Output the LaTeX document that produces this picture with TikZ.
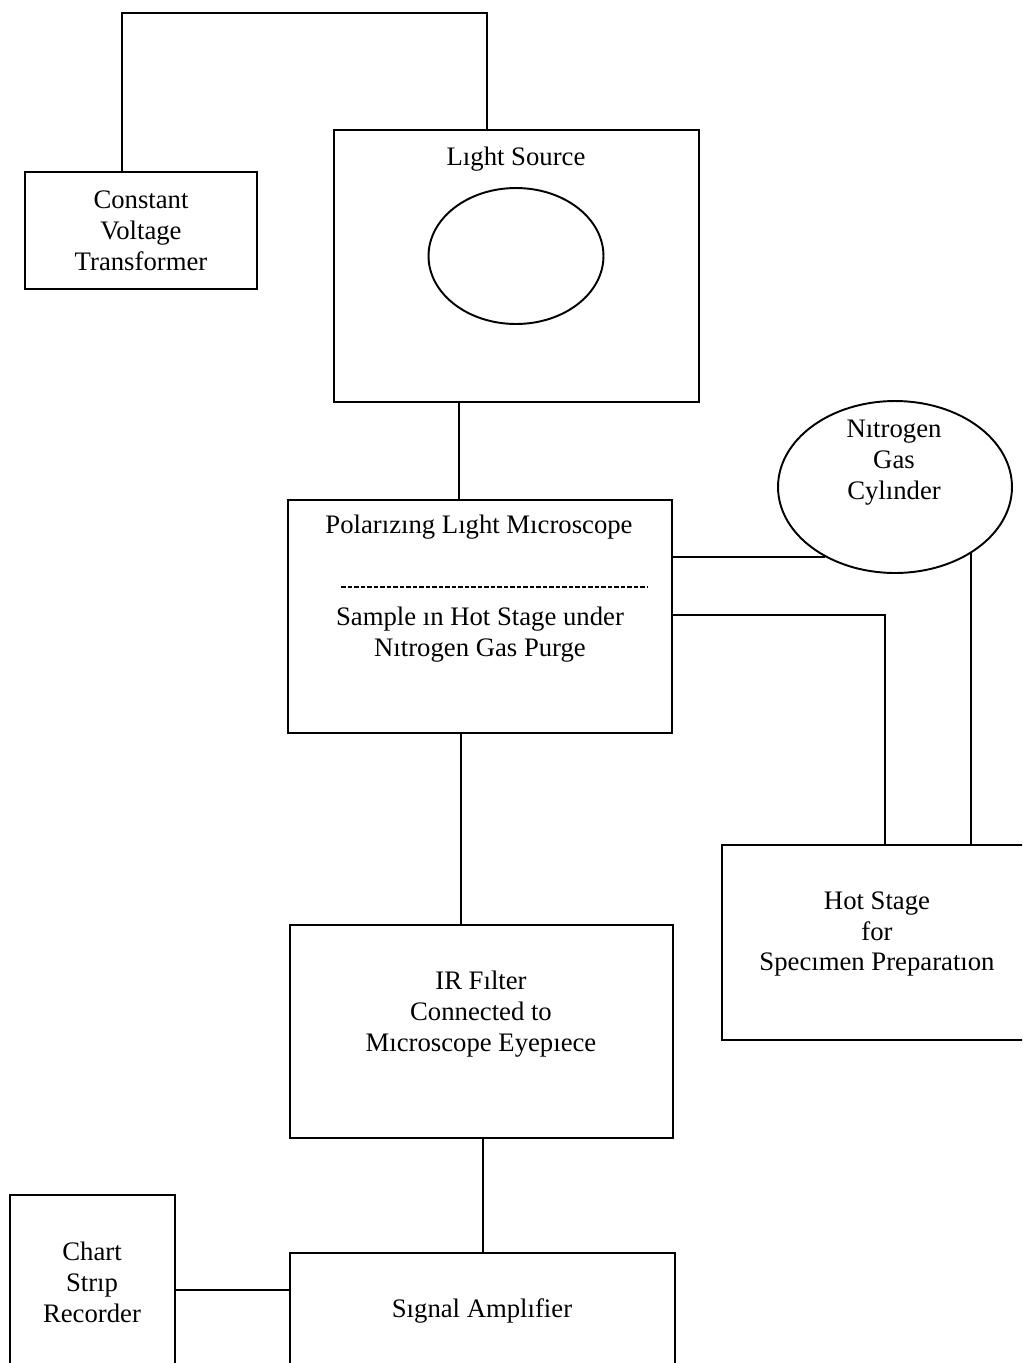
\documentclass[tikz,border=0pt]{standalone}
\usepackage{fontspec}
\setmainfont{Liberation Serif}
\usetikzlibrary{shapes.geometric}
\begin{document}
\begin{tikzpicture}[x=0.02cm,y=-0.02cm]
\tikzset{
  box/.style={draw, line width=1.1pt, rectangle, inner sep=0pt},
  oval/.style={draw, line width=1.1pt, ellipse, inner sep=0pt},
  lbl/.style={align=center, inner sep=0pt, font=\fontsize{15.2}{17.6}\selectfont},
  wire/.style={line width=1.1pt},
  dashline/.style={line width=0.9pt, dash pattern=on 2.6pt off 1.1pt}
}
\useasboundingbox (0,0) rectangle (1022,1363);
\clip (0,0) rectangle (1022,1363);

% boxes and texts
\node[box, minimum width=4.64cm, minimum height=2.34cm] (cvt) at (141,230.5) {};
\node[lbl] (cvtT) at (141,231) {Constant\\Voltage\\Transformer};

\node[box, minimum width=7.3cm, minimum height=5.44cm] (ls) at (516.5,266) {};
\node[lbl] (lsT) at (516,159) {Lıght Source};
\node[oval, minimum width=3.5cm, minimum height=2.72cm] (bulb) at (516,256) {};

\node[box, minimum width=7.68cm, minimum height=4.66cm] (plm) at (480,616.5) {};
\node[lbl] (plmT) at (479,527) {Polarızıng Lıght Mıcroscope};
\coordinate (dA) at (341,587);
\coordinate (dB) at (648,587);
\draw[dashline] (dA) -- (dB);
\node[lbl] (plmS) at (480,635) {Sample ın Hot Stage under\\Nıtrogen Gas Purge};

\node[oval, minimum width=4.68cm, minimum height=3.44cm] (n2) at (895,487) {};
\node[lbl] (n2T) at (894,463) {Nıtrogen\\Gas\\Cylınder};

\node[box, minimum width=6.2cm, minimum height=3.9cm] (hs) at (877,942.5) {};
\node[lbl] (hsT) at (877,934) {Hot Stage\\for\\Specımen Preparatıon};

\node[box, minimum width=7.66cm, minimum height=4.26cm] (ir) at (481.5,1031.5) {};
\node[lbl] (irT) at (481,1014) {IR Fılter\\Connected to\\Mıcroscope Eyepıece};

\node[box, minimum width=7.7cm, minimum height=2.34cm] (amp) at (482.5,1311.5) {};
\node[lbl] (ampT) at (482,1311) {Sıgnal Amplıfier};

\node[box, minimum width=3.3cm, minimum height=3.5cm] (csr) at (92.5,1282.5) {};
\node[lbl] (csrT) at (92,1282) {Chart\\Strıp\\Recorder};

% connectors
\coordinate (w1) at (122,13);
\coordinate (w2) at (487,13);
\draw[wire] (cvt.north -| w1) -- (w1) -- (w2) -- (ls.north -| w2);
\coordinate (c1) at (459,0);
\draw[wire] (ls.south -| c1) -- (plm.north -| c1);
\coordinate (c2) at (461,0);
\draw[wire] (plm.south -| c2) -- (ir.north -| c2);
\coordinate (c3) at (483,0);
\draw[wire] (ir.south -| c3) -- (amp.north -| c3);
\coordinate (c4) at (0,1290);
\draw[wire] (csr.east |- c4) -- (amp.west |- c4);
\coordinate (y1) at (0,557);
\draw[wire] (plm.east |- y1) -- (n2.225.8);
\draw[wire] (n2.319.8) -- (n2.319.8 |- hs.north);
\coordinate (y2) at (885,615);
\draw[wire] (plm.east |- y2) -- (y2) -- (hs.north -| y2);
\end{tikzpicture}
\end{document}
